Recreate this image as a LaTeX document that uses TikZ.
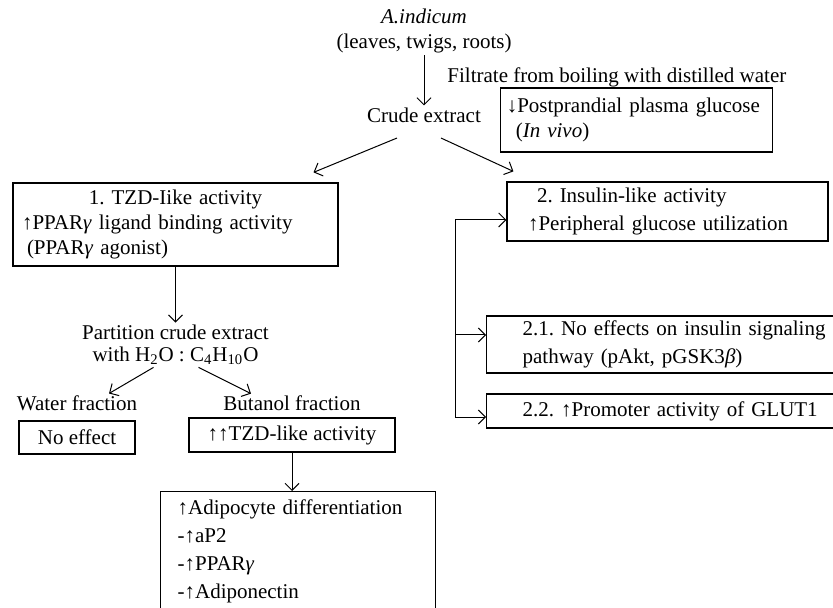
\documentclass[tikz,border=0pt]{standalone}
\usepackage{fontspec}
\setmainfont{Liberation Serif}
\usetikzlibrary{positioning, arrows.meta}
\frenchspacing
\newcommand{\figfont}{\fontsize{10.5}{12.5}\selectfont}
\newcommand{\upar}{↑}
\newcommand{\dnar}{↓}
\newcommand{\gam}{\textit{γ}}

\begin{document}
\begin{tikzpicture}[
    x=1pt, y=-1pt,
    txt/.style={inner sep=1pt, align=center, font=\figfont},
    box/.style={draw, line width=0.6pt, inner ysep=0pt, align=left, font=\figfont},
    arrow/.style={-{Straight Barb[length=3.5pt, width=7pt]}, line width=0.5pt}
]
    \useasboundingbox (0,0) rectangle (416.5,304);

    % Source and extraction
    \node[txt] (plant) at (212,15.5) {\textit{A.indicum}\\(leaves, twigs, roots)};
    \node[txt, below=25pt of plant] (crude) {Crude extract};
    \node[txt, anchor=west] (filtrate) at (222.5,38.5) {Filtrate from boiling with distilled water};
    \node[box, minimum width=136pt, minimum height=32pt, text width=130pt, inner xsep=3pt] (glucose) at (318.4,60) {\dnar Postprandial plasma glucose\\\hspace*{4.5pt}(\textit{In vivo})};

    % Activity 1
    \node[box, minimum width=162.5pt, minimum height=41.5pt, text width=153.5pt, inner xsep=4.5pt] (tzd) at (87.75,112.25) {\makebox[\linewidth]{1. TZD-Iike activity}\\\upar PPAR\gam{} ligand binding activity\\\hspace*{2.5pt}(PPAR\gam{} agonist)};
    \node[txt, below=28pt of tzd] (part) {Partition crude extract\\[-1.5pt]with H\textsubscript{2}O : C\textsubscript{4}H\textsubscript{10}O};

    % Fractions
    \node[box, minimum width=58pt, minimum height=16.5pt, align=center] (noeff) at (38.5,218.75) {No effect};
    \node[txt, above=3.5pt of noeff] (water) {Water fraction};
    \node[box, minimum width=103pt, minimum height=17pt, align=center] (tzdup) at (146,217.5) {\upar\upar TZD-like activity};
    \node[txt, above=2pt of tzdup] (butanol) {Butanol fraction};
    \node[box, anchor=north west, minimum width=137.5pt, minimum height=60pt, text width=120.5pt, inner xsep=8.5pt] (adipo) at (80,245.5) {\upar Adipocyte differentiation\\[1.5pt]-\upar aP2\\[1.5pt]-\upar PPAR\gam\\[1.5pt]-\upar Adiponectin};

    % Activity 2
    \node[box, minimum width=160.5pt, minimum height=29.5pt, text width=139.5pt, inner xsep=10.5pt] (insulin) at (333.75,105.75) {\hspace*{4.5pt}2. Insulin-like activity\\[1.5pt]\upar Peripheral glucose utilization};
    \node[box, anchor=west, minimum height=28.5pt, text width=160pt, inner xsep=18pt] (signal) at (243,172.25) {2.1. No effects on insulin signaling\\[1.5pt]pathway (pAkt, pGSK3\textit{β})};
    \node[box, anchor=west, minimum height=17pt, text width=160pt, inner xsep=18pt] (glut) at (243,205.5) {2.2. \upar Promoter activity of GLUT1};

    % Branch line
    \coordinate (spinetop) at (227.5,110);
    \coordinate (spinemid) at (227.5,167.5);
    \coordinate (spinebot) at (227.5,208.5);

    % Connections
    \draw[arrow] (plant) -- (crude);
    \draw[arrow] ([xshift=-13.5pt,yshift=-6.5pt]crude.south) -- ([xshift=69pt,yshift=5pt]tzd.north);
    \draw[arrow] ([xshift=8.5pt,yshift=-6.5pt]crude.south) -- ([xshift=3.5pt,yshift=5pt]insulin.north west);
    \draw[arrow] (tzd) -- (part);
    \draw[arrow] ([xshift=-11pt]part.south) -- ([xshift=16pt]water.north);
    \draw[arrow] ([xshift=11.5pt]part.south) -- ([xshift=-20.5pt]butanol.north);
    \draw[arrow] (tzdup) -- (tzdup |- adipo.north);
    \draw[arrow] (spinetop) -- (spinetop -| insulin.west);
    \draw[arrow] (spinetop) |- (spinebot -| glut.west);
    \draw[arrow] (spinemid) -- (spinemid -| signal.west);
\end{tikzpicture}
\end{document}
